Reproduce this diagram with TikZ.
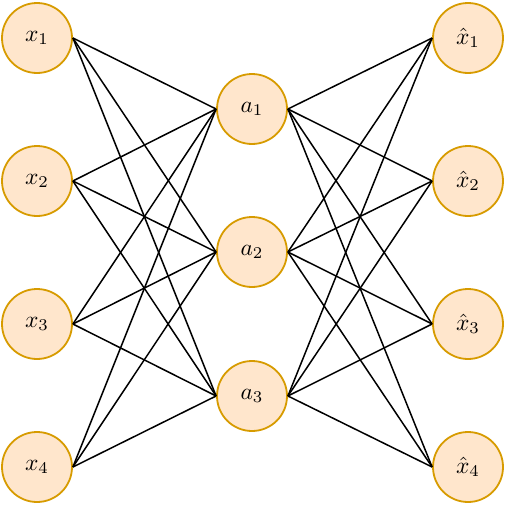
\documentclass[tikz,border=0pt]{standalone}
\usepackage{graphicx}
\definecolor{nfill}{HTML}{FFE6CC}
\definecolor{ndraw}{HTML}{D79B00}
\newcommand{\nlabel}[1]{\scalebox{2.35}{$#1$}}
\begin{document}
\begin{tikzpicture}[x=1pt,y=-1pt,
  neuron/.style={circle,draw=ndraw,fill=nfill,line width=1.8pt,minimum size=70pt,inner sep=0pt},
  conn/.style={black,line width=1.5pt}]
\useasboundingbox (0,0) rectangle (506,506);
\foreach \i/\y in {1/38,2/181,3/324,4/467}{
  \node[neuron] (x\i) at (37,\y) {\nlabel{x_{\i}}};
  \node[neuron] (y\i) at (468,\y) {\nlabel{\hat{x}_{\i}}};
}
\foreach \j/\y in {1/109,2/252,3/396}{
  \node[neuron] (a\j) at (252,\y) {\nlabel{a_{\j}}};
}
\foreach \i in {1,...,4}{
  \foreach \j in {1,2,3}{
    \draw[conn] (x\i.east) -- (a\j.west);
    \draw[conn] (a\j.east) -- (y\i.west);
  }
}
\end{tikzpicture}
\end{document}
